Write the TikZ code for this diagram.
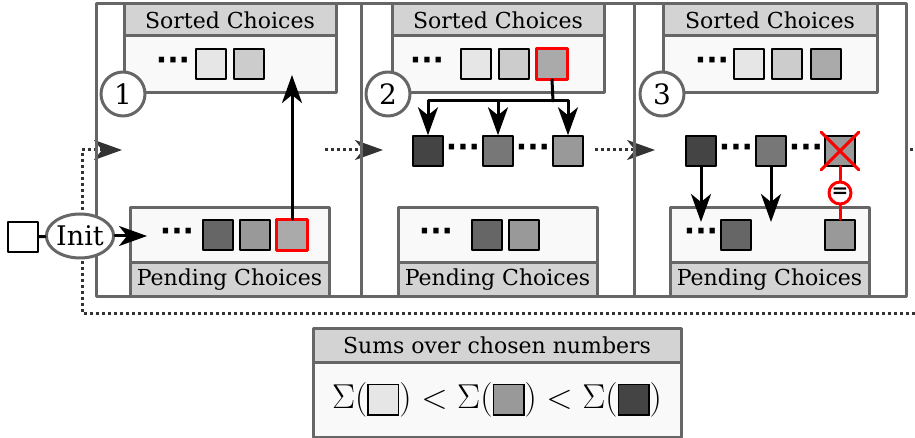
\documentclass[tikz,border=0pt]{standalone}
\usepackage{amsmath}
\usepackage{amssymb}
\usepackage[no-math]{fontspec}
\setmainfont{DejaVu Serif}
\newfontfamily\dotsfont{DejaVu Sans}
\usepackage{pgf,tikz}
\usetikzlibrary{arrows.meta}
\usetikzlibrary{shapes.geometric}
\definecolor{wwwwww}{rgb}{0.4,0.4,0.4}
\definecolor{tttttt}{rgb}{0.2,0.2,0.2}
\definecolor{dtdtdt}{rgb}{0.8274509803921568,0.8274509803921568,0.8274509803921568}
\definecolor{fzfzfz}{rgb}{0.9764705882352941,0.9764705882352941,0.9764705882352941}
\definecolor{ewewew}{rgb}{0.9019607843137255,0.9019607843137255,0.9019607843137255}
\definecolor{cccccc}{rgb}{0.8,0.8,0.8}
\definecolor{aaaaaa}{rgb}{0.6666666666666666,0.6666666666666666,0.6666666666666666}
\definecolor{zzzzzz}{rgb}{0.6,0.6,0.6}
\definecolor{xxxxxx}{rgb}{0.4666666666666667,0.4666666666666667,0.4666666666666667}
\definecolor{uuuuuu}{rgb}{0.26666666666666666,0.26666666666666666,0.26666666666666666}
\definecolor{ffqqqq}{rgb}{1.,0.,0.}
\newcommand{\legsq}[1]{\vcenter{\hbox{\setlength{\fboxsep}{0pt}\setlength{\fboxrule}{0.75pt}\fcolorbox{black}{#1}{\rule{0pt}{14.5pt}\rule{14.5pt}{0pt}}}}}

\begin{document}
\begin{tikzpicture}[line cap=round,line join=round,>={Stealth[length=14pt,width=10pt,inset=4pt]},x=0.5pt,y=-0.5pt,
  sq/.style={draw=black,line width=0.75pt,minimum size=15pt,inner sep=0pt},
  pick/.style={draw=ffqqqq,line width=1.5pt},
  hdr/.style={draw=wwwwww,fill=dtdtdt,line width=1.5pt,inner sep=0pt,font=\fontsize{11}{13}\selectfont},
  bodyp/.style={draw=wwwwww,fill=fzfzfz,line width=1.5pt,inner sep=0pt},
  stepno/.style={circle,draw=wwwwww,fill=white,line width=1.5pt,minimum size=22pt,inner sep=0pt,font=\fontsize{14}{16}\selectfont},
  more/.style={inner sep=0pt,font=\dotsfont\bfseries\fontsize{15}{16}\selectfont},
  loopline/.style={draw=tttttt,line width=1.5pt,line cap=butt,dash pattern=on 1.5pt off 1.5pt},
  flow/.style={->,line width=1.5pt}]
\useasboundingbox (0,0) rectangle (915,438);
\coordinate (loopOut) at (910,150);
\coordinate (loopEnd) at (915,150);
\coordinate (loopBack) at (915,313);
\coordinate (loopCorner) at (82,313);
\coordinate (loopUp) at (82,150);
\coordinate (intoA) at (122,150);
\coordinate (leaveA) at (325,150);
\coordinate (intoB) at (383,150);
\coordinate (leaveB) at (595,150);
\coordinate (intoC) at (655,150);
\draw[loopline] (loopOut) -- (loopEnd);
\draw[loopline,-{Stealth[length=14pt,width=10pt,inset=4pt,fill=tttttt]}] (loopBack) -- (loopCorner) -- (loopUp) -- (intoA);
\draw[loopline,-{Stealth[length=14pt,width=10pt,inset=4pt,fill=tttttt]}] (leaveA) -- (intoB);
\draw[loopline,-{Stealth[length=14pt,width=10pt,inset=4pt,fill=tttttt]}] (leaveB) -- (intoC);
\draw[line width=1.5pt,color=wwwwww] (96,4) rectangle (361,296);
\draw[line width=1.5pt,color=wwwwww] (361,4) rectangle (634,296);
\draw[line width=1.5pt,color=wwwwww] (634,4) rectangle (906,296);
\node[hdr,minimum width=106pt,minimum height=16pt] (sortHdrA) at (230,20) {Sorted Choices};
\node[bodyp,minimum width=106pt,minimum height=28.5pt] (sortBoxA) at (230,64.5) {};
\node[bodyp,minimum width=99.5pt,minimum height=27.5pt] (pendBoxA) at (229.5,235.5) {};
\node[hdr,minimum width=99.5pt,minimum height=16.5pt] (pendHdrA) at (229.5,279.5) {Pending Choices};
\node[stepno] (stepA) at (123,94) {1};
\node[more] (dotsA1) at (173,64) {···};
\node[sq,fill=ewewew] (sA1) at (211,64) {};
\node[sq,fill=cccccc] (sA2) at (249,64) {};
\node[more] (dotsA2) at (177,235) {···};
\node[sq,fill=wwwwww] (pA1) at (218,235) {};
\node[sq,fill=zzzzzz] (pA2) at (255,235) {};
\node[sq,fill=aaaaaa] (pA3) at (292,235) {};
\draw[pick] (pA3.north west) rectangle (pA3.south east);
\coordinate (upA) at (292,75);
\draw[flow] (pA3.north) -- (upA);
\node[sq,fill=white] (start) at (23,237) {};
\node[ellipse,draw=wwwwww,fill=white,line width=1.5pt,minimum width=29pt,minimum height=22pt,inner sep=0pt,font=\fontsize{13.5}{15}\selectfont] (init) at (80,236) {Init};
\coordinate (pendInA) at (147,236);
\draw[line width=1.5pt] (start) -- (init);
\draw[flow] (init) -- (pendInA);
\node[hdr,minimum width=106pt,minimum height=16pt] (sortHdrB) at (498,20) {Sorted Choices};
\node[bodyp,minimum width=106pt,minimum height=28.5pt] (sortBoxB) at (498,64.5) {};
\node[bodyp,minimum width=99.5pt,minimum height=27.5pt] (pendBoxB) at (497.5,235.5) {};
\node[hdr,minimum width=99.5pt,minimum height=16.5pt] (pendHdrB) at (497.5,279.5) {Pending Choices};
\node[stepno] (stepB) at (388,94) {2};
\node[more] (dotsB1) at (427,64) {···};
\node[sq,fill=ewewew] (sB1) at (476,64) {};
\node[sq,fill=cccccc] (sB2) at (514,64) {};
\node[sq,fill=aaaaaa] (sB3) at (552,64) {};
\draw[pick] (sB3.north west) rectangle (sB3.south east);
\node[sq,fill=uuuuuu] (mB1) at (428,151) {};
\node[more] (dotsB2) at (463,151) {···};
\node[sq,fill=xxxxxx] (mB2) at (498,151) {};
\node[more] (dotsB3) at (533,151) {···};
\node[sq,fill=zzzzzz] (mB3) at (568,151) {};
\coordinate (forkB) at (553,101);
\draw[line width=1.5pt] (sB3.south) -- (forkB);
\draw[flow] (forkB) -| (mB1.north);
\draw[flow] (forkB) -| (mB2.north);
\draw[flow] (forkB) -| (mB3.north);
\node[more] (dotsB4) at (436,235) {···};
\node[sq,fill=wwwwww] (pB1) at (487,235) {};
\node[sq,fill=zzzzzz] (pB2) at (524,235) {};
\node[hdr,minimum width=107pt,minimum height=16pt] (sortHdrC) at (770,20) {Sorted Choices};
\node[bodyp,minimum width=107pt,minimum height=28.5pt] (sortBoxC) at (770,64.5) {};
\node[bodyp,minimum width=99.5pt,minimum height=27.5pt] (pendBoxC) at (769.5,235.5) {};
\node[hdr,minimum width=99.5pt,minimum height=16.5pt] (pendHdrC) at (769.5,279.5) {Pending Choices};
\node[stepno] (stepC) at (662,94) {3};
\node[more] (dotsC1) at (712,64) {···};
\node[sq,fill=ewewew] (sC1) at (749,64) {};
\node[sq,fill=cccccc] (sC2) at (787,64) {};
\node[sq,fill=aaaaaa] (sC3) at (826,64) {};
\node[sq,fill=uuuuuu] (mC1) at (701,151) {};
\node[more] (dotsC2) at (736,151) {···};
\node[sq,fill=xxxxxx] (mC2) at (771,151) {};
\node[more] (dotsC3) at (806,151) {···};
\node[sq,fill=zzzzzz] (mC3) at (840,151) {};
\draw[ffqqqq,line width=1.5pt] ([shift={(-3,-3)}]mC3.north west) -- ([shift={(3,3)}]mC3.south east);
\draw[ffqqqq,line width=1.5pt] ([shift={(3,-3)}]mC3.north east) -- ([shift={(-3,3)}]mC3.south west);
\node[more] (dotsC4) at (701,235) {···};
\node[sq,fill=wwwwww] (pC1) at (736,235) {};
\node[sq,fill=zzzzzz] (pC2) at (840,235) {};
\coordinate (dropC1) at (701,222);
\coordinate (dropC2) at (771,222);
\draw[flow] (mC1.south) -- (dropC1);
\draw[flow] (mC2.south) -- (dropC2);
\node[circle,draw=ffqqqq,fill=white,line width=1.5pt,minimum size=11pt,inner sep=0pt,font=\bfseries\fontsize{10}{10}\selectfont] (eqC) at (840,193) {=};
\draw[ffqqqq,line width=1.5pt] (mC3.south) -- (eqC);
\draw[ffqqqq,line width=1.5pt] (eqC) -- (pC2.north);
\node[hdr,minimum width=184pt,minimum height=17pt] (legHdr) at (497,345) {Sums over chosen numbers};
\node[bodyp,minimum width=184pt,minimum height=37.5pt,font=\fontsize{17.5}{19}\selectfont] (legBox) at (497,399.5) {$\Sigma(\legsq{ewewew})<\Sigma(\legsq{zzzzzz})<\Sigma(\legsq{uuuuuu})$};
\end{tikzpicture}
\end{document}
